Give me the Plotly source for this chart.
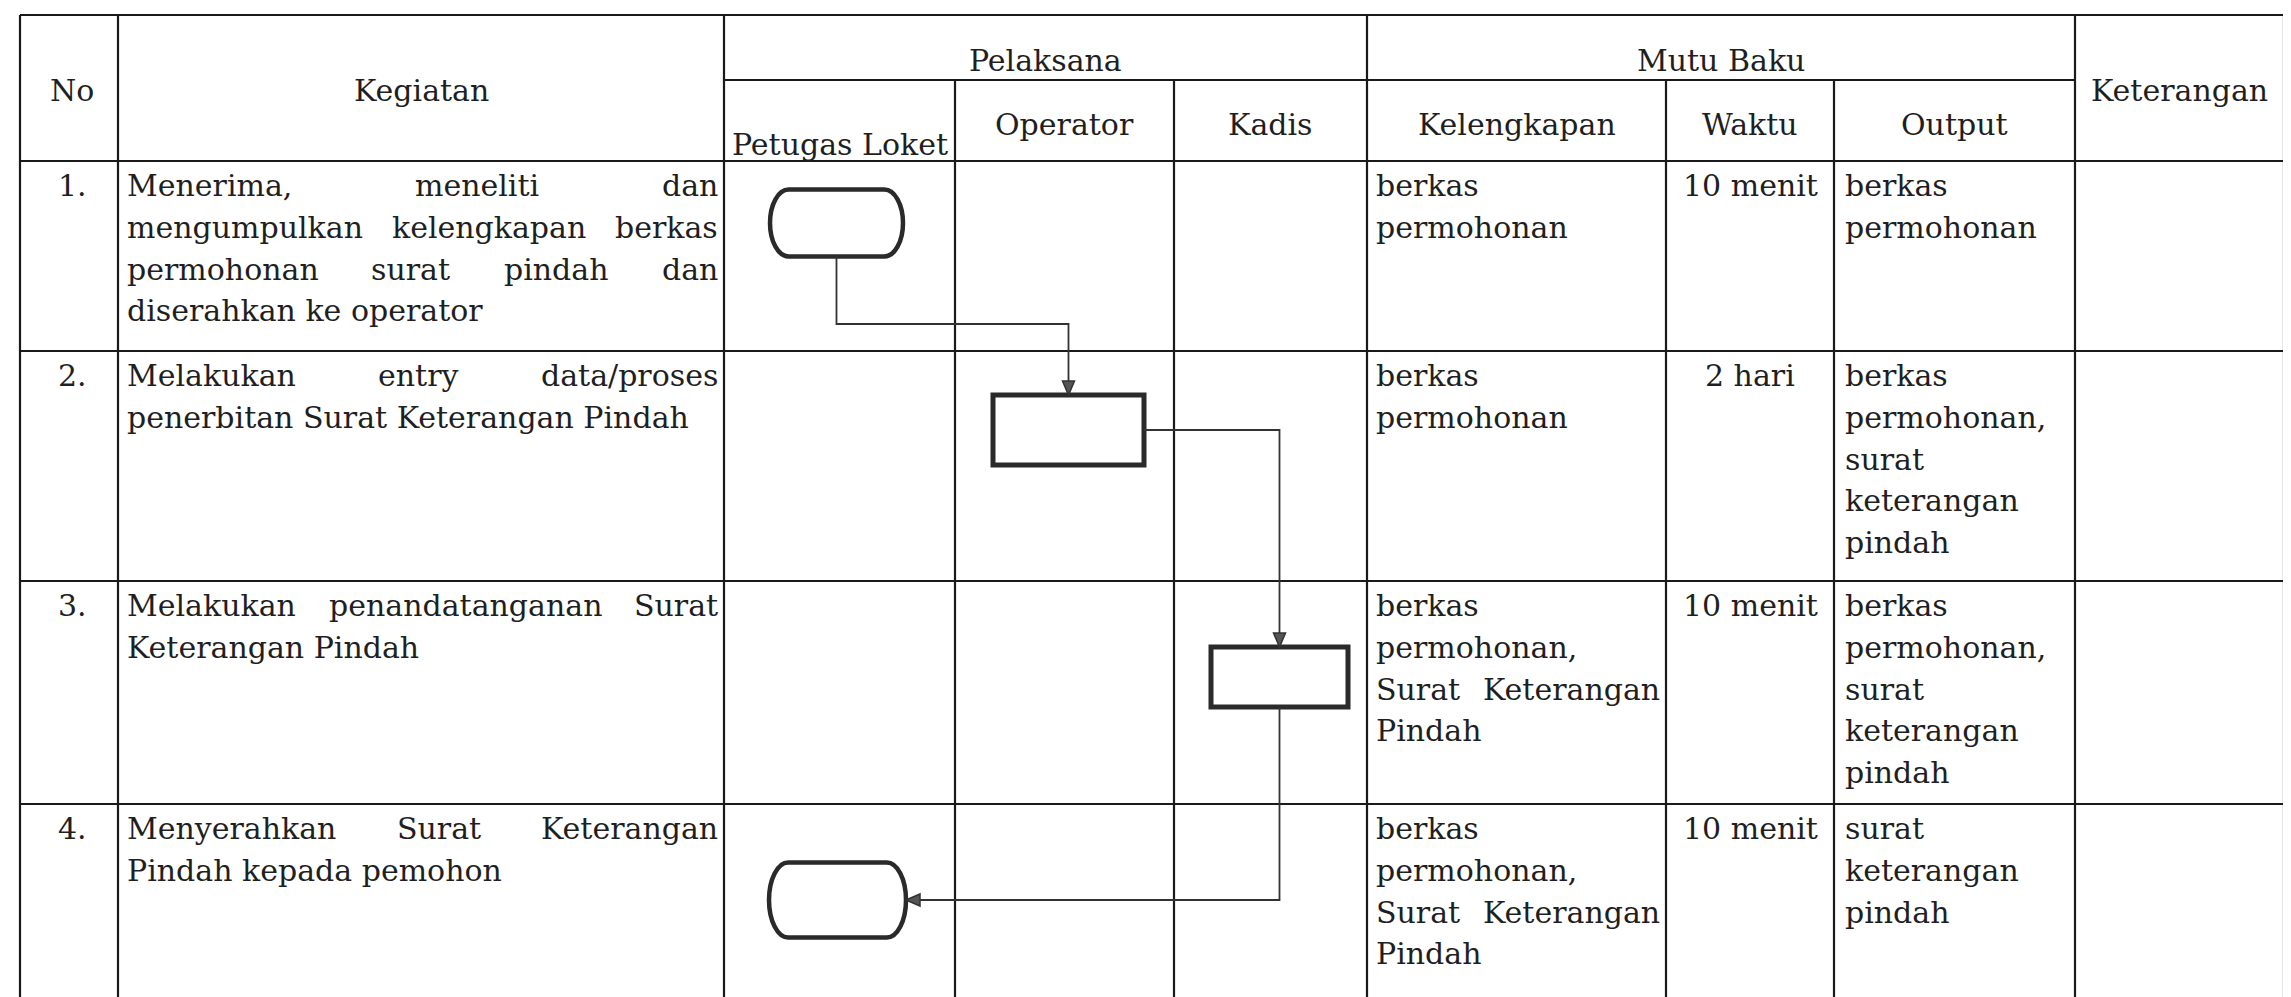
import plotly.graph_objects as go

# ---------------- data (table content) ----------------
header_top = ["No", "Kegiatan", "Pelaksana", "Mutu Baku", "Keterangan"]
pelaksana = ["Petugas Loket", "Operator", "Kadis"]
mutu_baku = ["Kelengkapan", "Waktu", "Output"]
step_no = ["1.", "2.", "3.", "4."]
kegiatan = [
    ["Menerima, meneliti dan", "mengumpulkan kelengkapan berkas",
     "permohonan surat pindah dan", "diserahkan ke operator"],
    ["Melakukan entry data/proses", "penerbitan Surat Keterangan Pindah"],
    ["Melakukan penandatanganan Surat", "Keterangan Pindah"],
    ["Menyerahkan Surat Keterangan", "Pindah kepada pemohon"],
]
kelengkapan = [
    ["berkas", "permohonan"],
    ["berkas", "permohonan"],
    ["berkas", "permohonan,", "Surat Keterangan", "Pindah"],
    ["berkas", "permohonan,", "Surat Keterangan", "Pindah"],
]
waktu = ["10 menit", "2 hari", "10 menit", "10 menit"]
output = [
    ["berkas", "permohonan"],
    ["berkas", "permohonan,", "surat", "keterangan", "pindah"],
    ["berkas", "permohonan,", "surat", "keterangan", "pindah"],
    ["surat", "keterangan", "pindah"],
]
keterangan = [[], [], [], []]
flow_lane = ["Petugas Loket", "Operator", "Kadis", "Petugas Loket"]
flow_symbol = ["terminator", "process", "process", "terminator"]

# ---------------- layout geometry / style ----------------
W, H = 2291, 997
col_x = [12, 110, 716, 947, 1166, 1359, 1658, 1826, 2067, 2276]
row_y = [7, 153, 343, 573, 796, 993]
sub_y = 72
FONT = "DejaVu Serif"
FS = 30
TXT = "#1f1f1f"
LINE_C = "#1a1a1a"
BASE_OFF = 35        # first baseline below row top
LSTEP = 41.7         # line spacing
MID = 0.346 * FS     # baseline -> visual middle
PAD_L, PAD_R = 8, 5

node_w = [133, 151, 137, 137]
node_h = [67, 70, 60, 75]
node_dy = [62, 79, 96, 96]     # centre offset below row top
node_dx = [-3, 4, 9, -2]       # centre offset from lane centre
conn = [(0, 1, "vhv", -27), (1, 2, "hv", 0), (2, 3, "vh", 0)]

CW = {'a': 596, 'b': 640, 'c': 560, 'd': 640, 'e': 592, 'f': 370, 'g': 640, 'h': 644,
      'i': 320, 'j': 316, 'k': 611, 'l': 320, 'm': 948, 'n': 644, 'o': 602, 'p': 640,
      'q': 640, 'r': 478, 's': 513, 't': 402, 'u': 644, 'v': 565, 'w': 856, 'x': 564,
      'y': 565, 'z': 523, ' ': 318, ',': 318, '.': 318, '/': 337, 'M': 995, 'S': 648,
      'K': 698, 'P': 673, 'D': 770}


def text_w(s):
    return sum(CW.get(c, 650) for c in s) / 1000.0 * FS


annotations = []


def put(x, baseline, s, xanchor="left"):
    annotations.append(dict(x=x, y=baseline - MID, xref="x", yref="y", text=s,
                            showarrow=False, xanchor=xanchor, yanchor="middle",
                            borderpad=0,
                            font=dict(family=FONT, size=FS, color=TXT)))


def paragraph(lines, L, R, top, justify=True):
    for k, s in enumerate(lines):
        b = top + BASE_OFF + k * LSTEP
        words = s.split()
        last = (k == len(lines) - 1)
        if last or not justify or len(words) == 1:
            put(L, b, s, "left")
            continue
        ws = [text_w(w) for w in words]
        gap = (R - L - sum(ws)) / (len(words) - 1)
        x = L
        for i, (w, wd) in enumerate(zip(words, ws)):
            if i == 0:
                put(L, b, w, "left")
            elif i == len(words) - 1:
                put(R, b, w, "right")
            else:
                put(x + wd / 2, b, w, "center")
            x += wd + gap


def cc(i):
    return (col_x[i] + col_x[i + 1]) / 2


shapes = []


def line(x0, y0, x1, y1, w=2.2, c=LINE_C):
    shapes.append(dict(type="line", xref="x", yref="y", x0=x0, y0=y0, x1=x1, y1=y1,
                       line=dict(color=c, width=w)))


# table grid
for y in row_y:
    line(col_x[0], y, col_x[-1], y)
line(col_x[2], sub_y, col_x[8], sub_y)
for i, x in enumerate(col_x):
    y0 = sub_y if i in (3, 4, 6, 7) else row_y[0]
    line(x, y0, x, row_y[-1])

# headers
put(cc(0) + 3, 93, header_top[0], "center")
put(cc(1), 93, header_top[1], "center")
put((col_x[2] + col_x[5]) / 2, 63, header_top[2], "center")
put((col_x[5] + col_x[8]) / 2, 63, header_top[3], "center")
put(cc(8), 93, header_top[4], "center")
put(cc(2), 147, pelaksana[0], "center")
put(cc(3), 127, pelaksana[1], "center")
put(cc(4), 127, pelaksana[2], "center")
put(cc(5), 127, mutu_baku[0], "center")
put(cc(6), 127, mutu_baku[1], "center")
put(cc(7), 127, mutu_baku[2], "center")

# body
for r in range(4):
    top = row_y[r + 1]
    put(cc(0) + 3, top + BASE_OFF, step_no[r], "center")
    paragraph(kegiatan[r], col_x[1] + PAD_L, col_x[2] - PAD_R, top)
    paragraph(kelengkapan[r], col_x[5] + PAD_L, col_x[6] - PAD_R, top)
    put(cc(6), top + BASE_OFF, waktu[r], "center")
    paragraph(output[r], col_x[7] + 10, col_x[8] - PAD_R, top, justify=False)
    paragraph(keterangan[r], col_x[8] + PAD_L, col_x[9] - PAD_R, top)

# flowchart nodes
NODE_C = "#2a2a2a"
nodes = []
for k, (lane, sym) in enumerate(zip(flow_lane, flow_symbol)):
    li = 2 + pelaksana.index(lane)
    cx = cc(li) + node_dx[k]
    cy = row_y[k + 1] + node_dy[k]
    w, h = node_w[k], node_h[k]
    nodes.append((cx, cy, w, h))
    x0, x1, y0, y1 = cx - w / 2, cx + w / 2, cy - h / 2, cy + h / 2
    if sym == "terminator":
        rx, ry, q = 0.14 * w, 0.5 * h, 0.448
        p = (f"M {x0+rx},{y0} L {x1-rx},{y0} "
             f"C {x1-rx*q},{y0} {x1},{y0+ry*q} {x1},{y0+ry} "
             f"C {x1},{y1-ry*q} {x1-rx*q},{y1} {x1-rx},{y1} "
             f"L {x0+rx},{y1} "
             f"C {x0+rx*q},{y1} {x0},{y1-ry*q} {x0},{y1-ry} "
             f"C {x0},{y0+ry*q} {x0+rx*q},{y0} {x0+rx},{y0} Z")
        shapes.append(dict(type="path", xref="x", yref="y", path=p,
                           line=dict(color=NODE_C, width=4.5), fillcolor="rgba(0,0,0,0)"))
    else:
        shapes.append(dict(type="rect", xref="x", yref="y", x0=x0, y0=y0, x1=x1, y1=y1,
                           line=dict(color=NODE_C, width=5), fillcolor="rgba(0,0,0,0)"))

# connectors
AL, AW = 14, 6
for a, b, route, mid in conn:
    ax, ay, aw, ah = nodes[a]
    bx, by, bw, bh = nodes[b]
    if route == "vhv":
        ym = row_y[b + 1] + mid
        pts = [(ax, ay + ah / 2), (ax, ym), (bx, ym), (bx, by - bh / 2)]
    elif route == "hv":
        pts = [(ax + aw / 2, ay), (bx, ay), (bx, by - bh / 2)]
    else:
        pts = [(ax, ay + ah / 2), (ax, by), (bx + bw / 2, by)]
    path = "M " + " L ".join(f"{x},{y}" for x, y in pts)
    shapes.append(dict(type="path", xref="x", yref="y", path=path,
                       line=dict(color="#333333", width=1.8)))
    (px, py), (ex, ey) = pts[-2], pts[-1]
    dx = (ex > px) - (ex < px)
    dy = (ey > py) - (ey < py)
    bxp, byp = ex - dx * AL, ey - dy * AL
    nx, ny = -dy, dx
    tri = (f"M {ex},{ey} L {bxp + nx*AW},{byp + ny*AW} "
           f"L {bxp - nx*AW},{byp - ny*AW} Z")
    shapes.append(dict(type="path", xref="x", yref="y", path=tri,
                       line=dict(color="#333333", width=1.5), fillcolor="#555555"))

fig = go.Figure()
fig.add_trace(go.Scatter(x=[0, W], y=[0, H], mode="markers",
                         marker=dict(opacity=0), hoverinfo="skip", showlegend=False))
fig.update_layout(
    width=W, height=H, margin=dict(l=0, r=0, t=0, b=0),
    paper_bgcolor="white", plot_bgcolor="white",
    xaxis=dict(range=[0, W], visible=False, fixedrange=True),
    yaxis=dict(range=[H, 0], visible=False, fixedrange=True),
    shapes=shapes, annotations=annotations, showlegend=False,
)
fig.write_html("out.html", config={"displayModeBar": False})
